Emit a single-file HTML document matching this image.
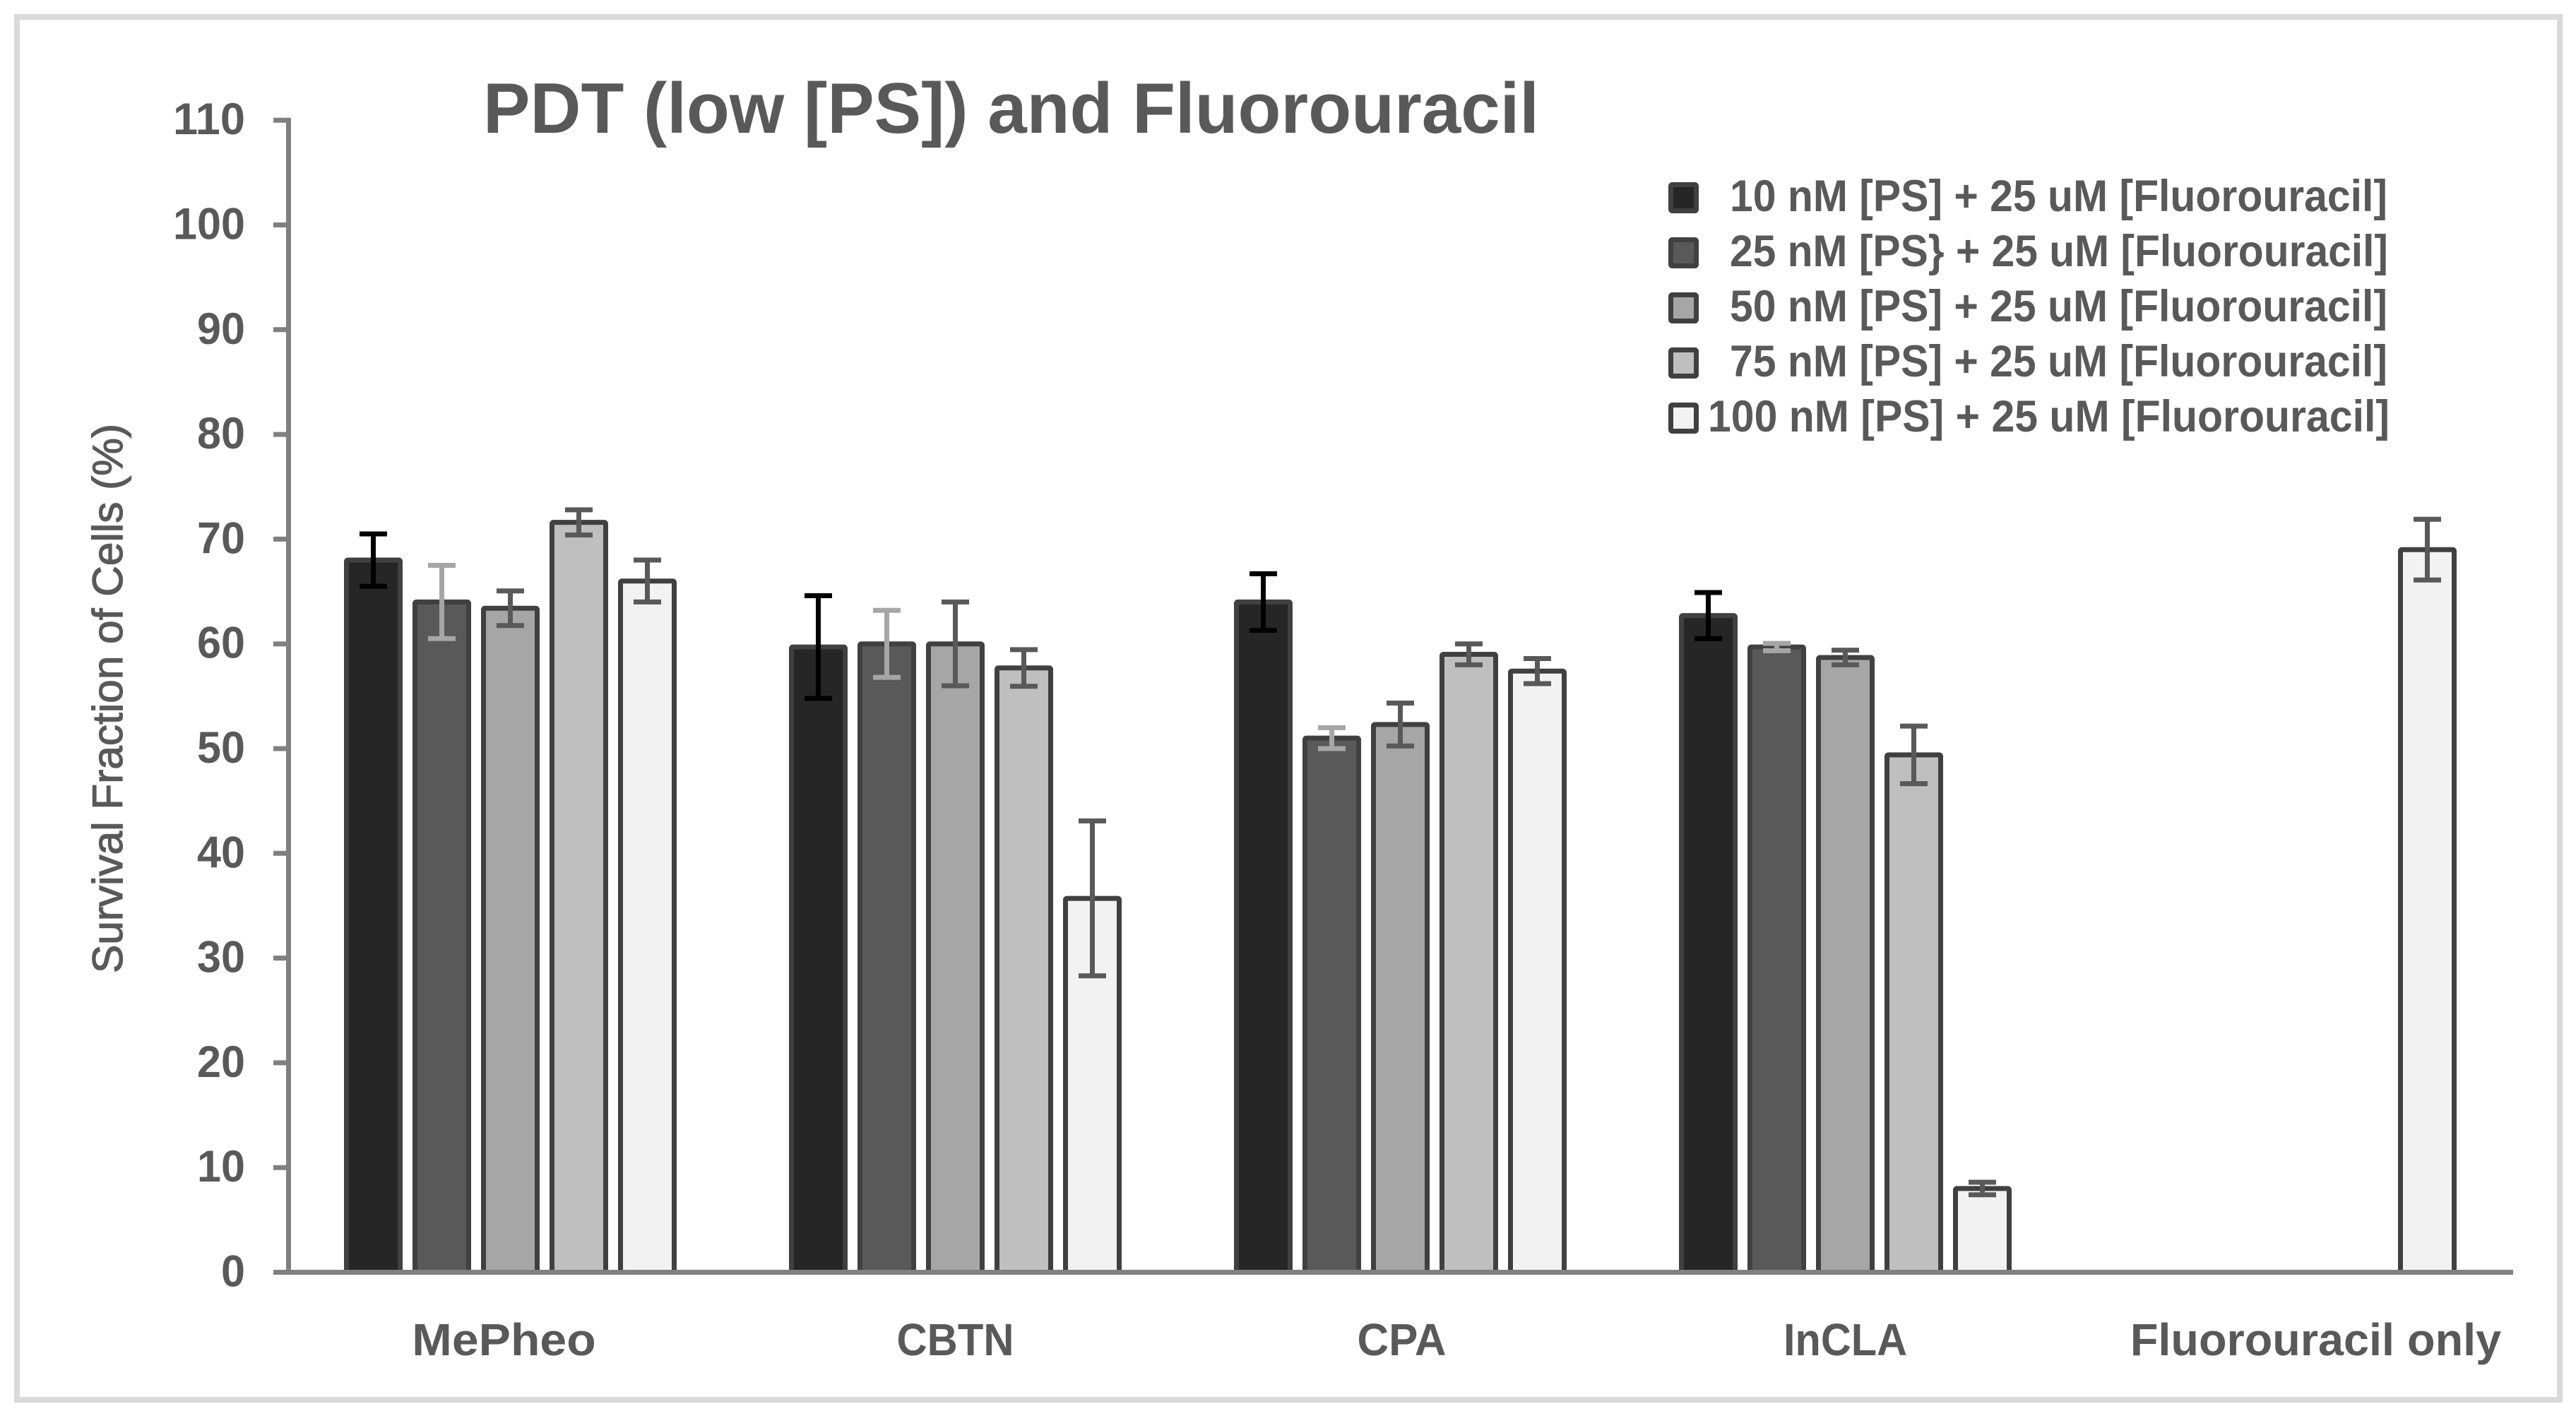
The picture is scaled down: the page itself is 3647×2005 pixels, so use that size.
<!DOCTYPE html>
<html lang="en">
<head>
<meta charset="utf-8">
<title>PDT (low [PS]) and Fluorouracil</title>
<style>
html,body{margin:0;padding:0;background:#fff;}
svg{display:block;}
text{font-family:"Liberation Sans",sans-serif;fill:#595959;font-weight:bold;}
</style>
</head>
<body>
<svg id="chart" xmlns="http://www.w3.org/2000/svg" width="3647" height="2005" viewBox="0 0 3647 2005">
  <rect x="0" y="0" width="3647" height="2005" fill="#ffffff"/>
  <rect x="24" y="24" width="3600" height="1958" fill="#ffffff" stroke="#d9d9d9" stroke-width="8"/>
  <text x="684" y="188" font-size="101" textLength="1495" lengthAdjust="spacingAndGlyphs">PDT (low [PS]) and Fluorouracil</text>
  <text transform="translate(173,1378) rotate(-90)" font-size="60" textLength="778" lengthAdjust="spacingAndGlyphs" style="font-weight:normal;stroke:#595959;stroke-width:1.2px">Survival Fraction of Cells (%)</text>
  <g id="bars"></g>
  <g id="axes"></g>
  <g>
    <g>
      <rect x="2365.5" y="261.5" width="36" height="37" rx="2" fill="#262626" stroke="#404040" stroke-width="7"/>
      <text x="2449" y="299" font-size="63" textLength="931" lengthAdjust="spacingAndGlyphs">10 nM [PS] + 25 uM [Fluorouracil]</text>
    </g>
    <g>
      <rect x="2365.5" y="339.5" width="36" height="37" rx="2" fill="#595959" stroke="#404040" stroke-width="7"/>
      <text x="2449" y="377" font-size="63" textLength="932" lengthAdjust="spacingAndGlyphs">25 nM [PS} + 25 uM [Fluorouracil]</text>
    </g>
    <g>
      <rect x="2365.5" y="417.5" width="36" height="37" rx="2" fill="#a6a6a6" stroke="#404040" stroke-width="7"/>
      <text x="2449" y="455" font-size="63" textLength="931" lengthAdjust="spacingAndGlyphs">50 nM [PS] + 25 uM [Fluorouracil]</text>
    </g>
    <g>
      <rect x="2365.5" y="495.5" width="36" height="37" rx="2" fill="#bfbfbf" stroke="#404040" stroke-width="7"/>
      <text x="2449" y="533" font-size="63" textLength="931" lengthAdjust="spacingAndGlyphs">75 nM [PS] + 25 uM [Fluorouracil]</text>
    </g>
    <g>
      <rect x="2365.5" y="573.5" width="36" height="37" rx="2" fill="#f2f2f2" stroke="#404040" stroke-width="7"/>
      <text x="2418" y="611" font-size="63" textLength="965" lengthAdjust="spacingAndGlyphs">100 nM [PS] + 25 uM [Fluorouracil]</text>
    </g>
  </g>
</svg>
<script>
const categories = ["MePheo", "CBTN", "CPA", "InCLA", "Fluorouracil only"];
const yTicks = [0, 10, 20, 30, 40, 50, 60, 70, 80, 90, 100, 110];
const seriesNames = ["10nm", "25nm", "50nm", "75nm", "100nm"];
const values10 = [68, 59.7, 64, 62.7, null];
const values25 = [64, 60, 51, 59.7, null];
const values50 = [63.4, 60, 52.3, 58.7, null];
const values75 = [71.6, 57.7, 59, 49.4, null];
const values100 = [66, 35.7, 57.4, 8, 69];
const errors10 = [2.5, 4.9, 2.7, 2.2, null];
const errors25 = [3.5, 3.2, 1, 0.35, null];
const errors50 = [1.65, 4, 2.05, 0.7, null];
const errors75 = [1.2, 1.75, 1, 2.75, null];
const errors100 = [2, 7.4, 1.2, 0.6, 2.9];

const allValues = [values10, values25, values50, values75, values100];
const allErrors = [errors10, errors25, errors50, errors75, errors100];
const barFills = ["#262626", "#595959", "#a6a6a6", "#bfbfbf", "#f2f2f2"];
const errorColors = ["#000000", "#a6a6a6", "#595959", "#595959", "#595959"];

const SVGNS = "http://www.w3.org/2000/svg";
const axisX = 408.5, axisRight = 3558, tickLeft = 387;
const zeroY = 1801.5, unitY = 14.83;
const groupWidth = 630, barPitch = 97, barInner = 76, capHalf = 19.5;

function yScale(v) { return zeroY - v * unitY; }
function groupCenter(g) { return axisX + groupWidth * (g + 0.5) - 1; }
function barCenter(g, s) { return groupCenter(g) + (s - 2) * barPitch; }

function make(tag, parent, attrs) {
  const el = document.createElementNS(SVGNS, tag);
  for (const k in attrs) el.setAttribute(k, attrs[k]);
  parent.appendChild(el);
  return el;
}

const barsLayer = document.getElementById("bars");
const axesLayer = document.getElementById("axes");

allValues.forEach(function (vals, s) {
  vals.forEach(function (v, g) {
    if (v === null) return;
    const cx = barCenter(g, s);
    const top = yScale(v);
    const bar = make("rect", barsLayer, { x: cx - barInner / 2, y: top, width: barInner, height: zeroY - top, rx: 2, fill: barFills[s], stroke: "#404040", "stroke-width": 7 });
    
    
  });
});

allValues.forEach(function (vals, s) {
  vals.forEach(function (v, g) {
    if (v === null) return;
    const cx = barCenter(g, s);
    const e = allErrors[s][g];
    const hi = yScale(v + e), lo = yScale(v - e);
    const err = make("path", barsLayer, { d: "M" + cx + " " + hi + "V" + lo + "M" + (cx - capHalf) + " " + hi + "H" + (cx + capHalf) + "M" + (cx - capHalf) + " " + lo + "H" + (cx + capHalf), fill: "none", stroke: errorColors[s], "stroke-width": 7 });
    
    
  });
});

const yAxisLine = make("line", axesLayer, { x1: axisX, x2: axisX, y1: yScale(yTicks[yTicks.length - 1]) - 3.5, y2: zeroY, stroke: "#808080", "stroke-width": 7 });



yTicks.forEach(function (t) {
  const y = yScale(t);
  const mark = make("line", axesLayer, { x1: tickLeft, x2: axisX, y1: y, y2: y, stroke: "#808080", "stroke-width": 7 });
  
  
  const str = String(t);
  const label = make("text", axesLayer, { x: 347, y: y + 20, "font-size": 63, "text-anchor": "end", textLength: 34 * str.length, lengthAdjust: "spacingAndGlyphs" });
  label.textContent = str;
  
  
});

const xAxisLine = make("line", axesLayer, { x1: tickLeft, x2: axisRight, y1: zeroY, y2: zeroY, stroke: "#808080", "stroke-width": 7 });



function drawCategoryLabels() {
  const labelOffset = [-9, 0, 2, 0, 36];
  const charWidth = [43.4, 41.5, 42, 35, 30.9];
  categories.forEach(function (name, g) {
    const label = make("text", axesLayer, { x: groupCenter(g) + labelOffset[g], y: 1919, "font-size": 64, "text-anchor": "middle", textLength: charWidth[g] * name.length, lengthAdjust: "spacingAndGlyphs" });
    label.textContent = name;
    
    
  });
}
drawCategoryLabels();
</script>
</body>
</html>
